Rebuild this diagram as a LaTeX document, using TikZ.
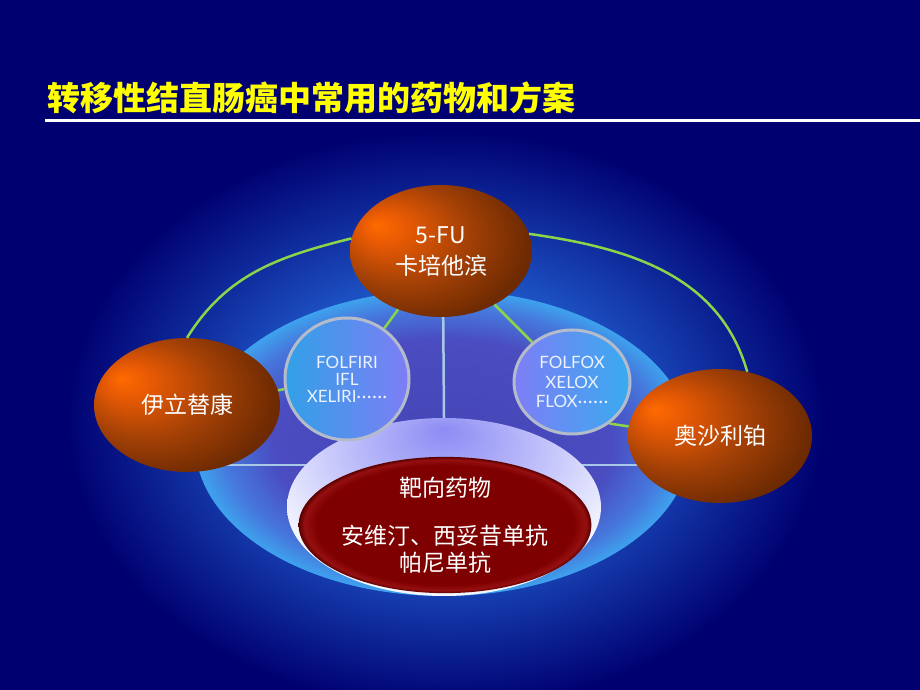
\documentclass[tikz,border=0pt]{standalone}
\usepackage{fontspec}
\usepackage{tikz}
\usetikzlibrary{calc}
\usetikzlibrary{shapes.geometric,positioning}
\newfontfamily\cjk{Noto Sans CJK SC}
\newfontfamily\latinf{Lato}
\newcommand\middots{\raisebox{0pt}{·\kern0.8pt·\kern0.8pt·\kern0.8pt·\kern0.8pt·\kern0.8pt·}}
\definecolor{bgnavy}{HTML}{000070}
\definecolor{glowblue}{HTML}{2466D8}
\definecolor{baseA}{HTML}{4545B5}
\definecolor{baseB}{HTML}{4A4CC0}
\definecolor{baseC}{HTML}{4678DC}
\definecolor{baseD}{HTML}{3EA2EE}
\definecolor{ringA}{HTML}{8C8CF4}
\definecolor{ringB}{HTML}{BABAFA}
\definecolor{ringC}{HTML}{F4F6FF}
\definecolor{redA}{HTML}{7E0000}
\definecolor{redB}{HTML}{961010}
\definecolor{redC}{HTML}{5A0000}
\definecolor{orA}{HTML}{FF6A00}
\definecolor{orB}{HTML}{E85A04}
\definecolor{orC}{HTML}{A24006}
\definecolor{orD}{HTML}{6E2A02}
\definecolor{orE}{HTML}{5A2000}
\definecolor{ringgray}{HTML}{B4BCCC}
\definecolor{txtblue}{HTML}{ECF2FF}
\definecolor{linkgreen}{HTML}{8CD44A}
\definecolor{splitline}{HTML}{A8C8E8}
\definecolor{titleyellow}{HTML}{FFFF00}
\pgfdeclareradialshading{glowshade}{\pgfpoint{0bp}{0bp}}{color(0bp)=(glowblue); color(12bp)=(glowblue!80!bgnavy); color(25bp)=(bgnavy); color(50bp)=(bgnavy)}
\pgfdeclareradialshading{baseshade}{\pgfpoint{0bp}{0bp}}{color(0bp)=(baseA); color(17bp)=(baseB); color(22bp)=(baseC); color(25bp)=(baseD); color(50bp)=(baseD)}
\pgfdeclareradialshading{ringshade}{\pgfpoint{0bp}{22bp}}{color(0bp)=(ringA); color(14bp)=(ringB); color(30bp)=(ringC); color(60bp)=(ringC)}
\pgfdeclareradialshading{targetshade}{\pgfpoint{0bp}{0bp}}{color(0bp)=(redA); color(22bp)=(redA); color(24bp)=(redB); color(25bp)=(redC); color(50bp)=(redC)}
\pgfdeclareradialshading{orbshade}{\pgfpoint{-18bp}{10bp}}{color(0bp)=(orA); color(6bp)=(orB); color(19bp)=(orC); color(31bp)=(orD); color(50bp)=(orE)}

\begin{document}
\begin{tikzpicture}[x=1pt,y=1pt,
    orb/.style={ellipse,shading=orbshade,inner sep=0pt,text=white,align=center,
      font=\cjk\fontsize{23}{31}\selectfont},
    regimen/.style={ellipse,draw=ringgray,line width=3pt,inner sep=0pt,text=txtblue,align=center},
    link/.style={linkgreen,line width=2.5pt},
    split/.style={splitline,line width=2.5pt}]
  \useasboundingbox (0,0) rectangle (920,690);
  \fill[bgnavy] (0,0) rectangle (920,690);
  \shade[shading=glowshade] (445,270) ellipse [x radius=380,y radius=290];

  % title and rule
  \node[anchor=west,text=titleyellow,font=\cjk\bfseries\fontsize{33}{40}\selectfont,inner sep=0pt]
    (title) at (47,592) {转移性结直肠癌中常用的药物和方案};
  \coordinate (rulel) at (45,569);
  \coordinate (ruler) at (920,569);
  \draw[white,line width=3pt] (rulel) -- (ruler);

  % base plate
  \node[ellipse,shading=baseshade,minimum width=496,minimum height=306,inner sep=0pt] (base) at (443,247) {};
  \coordinate (hl) at (198,225);
  \coordinate (hr) at (688,225);
  \draw[split] (hl) -- (hr);
  \node[ellipse,shading=ringshade,minimum width=314,minimum height=178,inner sep=0pt] (ring) at (444,183) {};
  \draw[split] (base.north) -- (ring.north);

  % targeted drugs
  \node[ellipse,shading=targetshade,minimum width=256,minimum height=136,inner sep=0pt,
    text=white,align=center,font=\cjk\fontsize{23}{27}\selectfont] (target) at (445,165)
    {靶向药物\\[21pt]安维汀、西妥昔单抗\\帕尼单抗};

  % regimens
  \node[regimen,left color=baseC!70!cyan,right color=ringA!90!blue,minimum width=124,minimum height=122,
    font=\latinf\fontsize{17}{17}\selectfont] (folfiri) at (347,311)
    {FOLFIRI\\IFL\\XELIRI\middots};
  \node[regimen,left color=ringA!90!blue,right color=baseD!90!cyan,minimum width=116,minimum height=104,
    font=\latinf\fontsize{17}{19.5}\selectfont] (folfox) at (572,308)
    {FOLFOX\\XELOX\\FLOX\middots};

  % drugs
  \node[orb,minimum width=182,minimum height=132] (fu) at (441,439) {5-FU\\卡培他滨};
  \node[orb,minimum width=186,minimum height=134] (irin) at (187,285) {伊立替康};
  \node[orb,minimum width=184,minimum height=134] (oxa) at (720,254) {奥沙利铂};

  % links
  \draw[link] (irin.north) to[out=58,in=194] (fu.172);
  \draw[link] (fu.11) to[out=-8,in=106] (oxa.67);
  \draw[link] (fu) -- (folfiri);
  \draw[link] (fu) -- (folfox);
  \draw[link] (irin) -- (folfiri);
  \draw[link] (folfox.-48) -- (oxa.174);
\end{tikzpicture}
\end{document}
